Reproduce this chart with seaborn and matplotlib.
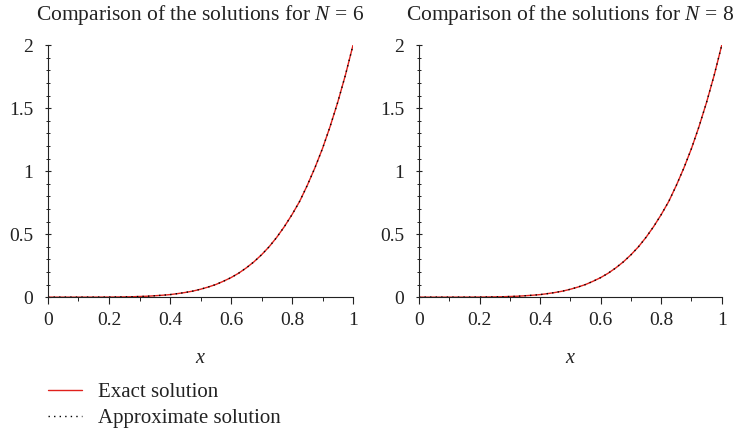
import numpy as np
import pandas as pd
import matplotlib.pyplot as plt
import seaborn as sns
from matplotlib.lines import Line2D
from matplotlib.ticker import MultipleLocator

x = [0.0, 0.025, 0.05, 0.075, 0.1, 0.125, 0.15, 0.175, 0.2, 0.225, 0.25, 0.275,
     0.3, 0.325, 0.35, 0.375, 0.4, 0.425, 0.45, 0.475, 0.5, 0.525, 0.55, 0.575,
     0.6, 0.625, 0.65, 0.675, 0.7, 0.725, 0.75, 0.775, 0.8, 0.825, 0.85, 0.875,
     0.9, 0.925, 0.95, 0.975, 1.0]
exact = [0.0, 0.0, 0.0, 0.0, 0.0, 0.0001, 0.0002, 0.0003, 0.0006, 0.0012, 0.002, 0.003,
         0.005, 0.007, 0.011, 0.015, 0.02, 0.028, 0.037, 0.048, 0.0625, 0.08, 0.1, 0.126,
         0.155, 0.19, 0.232, 0.28, 0.336, 0.4, 0.475, 0.56, 0.655, 0.76, 0.887, 1.026,
         1.18, 1.355, 1.548, 1.762, 2.0]
approx_n6 = [0.0, 0.0, 0.0, 0.0, 0.0, 0.0001, 0.0002, 0.0003, 0.0006, 0.0012, 0.002, 0.003,
             0.005, 0.007, 0.011, 0.015, 0.02, 0.028, 0.037, 0.048, 0.0625, 0.08, 0.1, 0.126,
             0.155, 0.19, 0.232, 0.28, 0.336, 0.4, 0.475, 0.56, 0.655, 0.76, 0.887, 1.026,
             1.18, 1.355, 1.548, 1.762, 2.0]
approx_n8 = [0.0, 0.0, 0.0, 0.0, 0.0, 0.0001, 0.0002, 0.0003, 0.0006, 0.0012, 0.002, 0.003,
             0.005, 0.007, 0.011, 0.015, 0.02, 0.028, 0.037, 0.048, 0.0625, 0.08, 0.1, 0.126,
             0.155, 0.19, 0.232, 0.28, 0.336, 0.4, 0.475, 0.56, 0.655, 0.76, 0.887, 1.026,
             1.18, 1.355, 1.548, 1.762, 2.0]
titles = ["Comparison of the solutions for $N$ = 6", "Comparison of the solutions for $N$ = 8"]

sns.set_style("ticks")
plt.rcParams['font.family'] = ['Liberation Serif', 'DejaVu Serif']
plt.rcParams['mathtext.fontset'] = 'custom'
plt.rcParams['mathtext.it'] = 'Liberation Serif:italic'
plt.rcParams['mathtext.rm'] = 'Liberation Serif'

red = "#e0201b"
dots = (0, (1, 3))
fig = plt.figure(figsize=(7.35, 4.3), dpi=100)
ax1 = fig.add_axes([0.0653, 0.309, 0.415, 0.586])
ax2 = fig.add_axes([0.570, 0.309, 0.412, 0.586])

for ax, approx, title in [(ax1, approx_n6, titles[0]), (ax2, approx_n8, titles[1])]:
    df = pd.DataFrame({"x": x, "exact": exact, "approx": approx})
    sns.lineplot(data=df, x="x", y="exact", ax=ax, color=red, lw=1.0)
    sns.lineplot(data=df, x="x", y="approx", ax=ax, color="black", lw=1.0,
                 linestyle=dots)
    ax.set_xlim(0, 1)
    ax.set_ylim(0, 2)
    ax.set_xticks([0, 0.2, 0.4, 0.6, 0.8, 1])
    ax.set_xticklabels(["0", "0.2", "0.4", "0.6", "0.8", "1"])
    ax.set_yticks([0, 0.5, 1, 1.5, 2])
    ax.set_yticklabels(["0", "0.5", "1", "1.5", "2"])
    ax.xaxis.set_minor_locator(MultipleLocator(0.1))
    ax.yaxis.set_minor_locator(MultipleLocator(0.1))
    ax.tick_params(axis="both", which="major", labelsize=14, length=5, width=0.8,
                   color="#222222", labelcolor="#222222")
    ax.tick_params(axis="both", which="minor", length=3, width=0.7, color="#222222")
    ax.tick_params(axis="y", which="both", direction="inout")
    ax.tick_params(axis="y", which="major", pad=8)
    ax.tick_params(axis="x", which="major", pad=6)
    ax.set_xlabel("$x$", fontsize=14.5, labelpad=14, color="#222222")
    ax.set_ylabel("")
    ax.set_title(title, fontsize=15.5, pad=18, color="#222222")
    sns.despine(ax=ax)
    for s in ["left", "bottom"]:
        ax.spines[s].set_linewidth(0.8)
        ax.spines[s].set_color("#222222")

handles = [Line2D([], [], color=red, lw=1.0),
           Line2D([], [], color="black", lw=1.0, linestyle=dots)]
leg = fig.legend(handles, ["Exact solution", "Approximate solution"], loc="lower left",
                 bbox_to_anchor=(0.0653, 0.004), frameon=False, fontsize=15,
                 borderpad=0, borderaxespad=0, handlelength=1.65,
                 handletextpad=0.75, labelspacing=0.3)
for t in leg.get_texts():
    t.set_color("#222222")

plt.savefig("out.png", dpi=100)
